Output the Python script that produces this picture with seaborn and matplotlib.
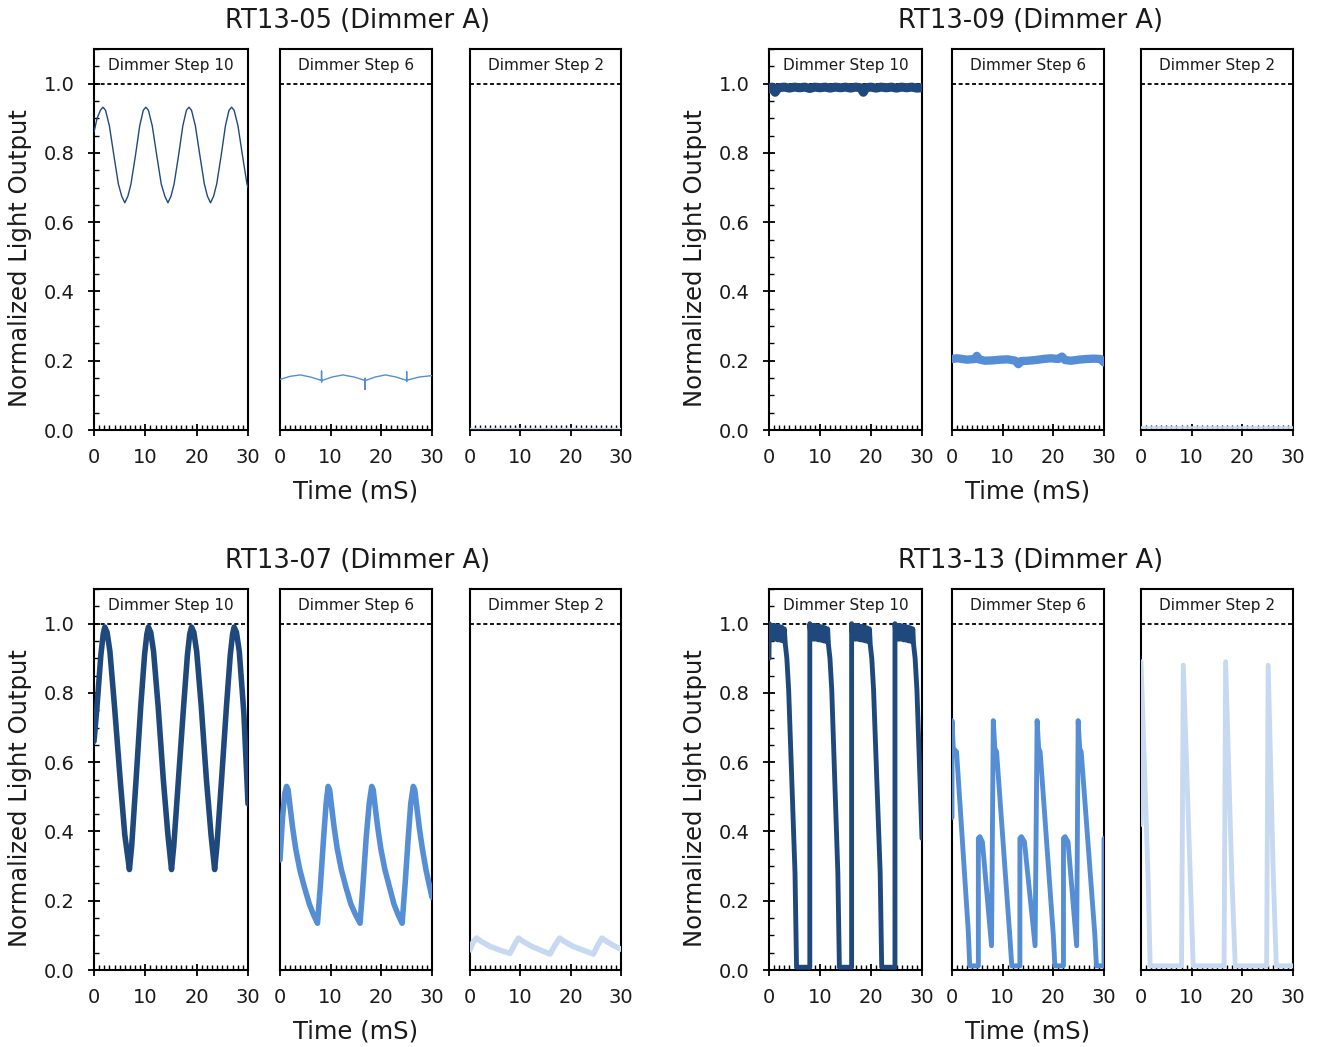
import numpy as np
import pandas as pd
import matplotlib
matplotlib.use("Agg")
import matplotlib.pyplot as plt
import matplotlib.transforms as mtransforms
from matplotlib.ticker import MultipleLocator, FixedLocator, NullLocator
import seaborn as sns

# ---------------- data ----------------
group_titles = ["RT13-05 (Dimmer A)", "RT13-09 (Dimmer A)",
                "RT13-07 (Dimmer A)", "RT13-13 (Dimmer A)"]
step_labels = ["Dimmer Step 10", "Dimmer Step 6", "Dimmer Step 2"]
x_ticks = [0, 10, 20, 30]
y_ticks = [0.0, 0.2, 0.4, 0.6, 0.8, 1.0]
y_tick_labels = ["0.0", "0.2", "0.4", "0.6", "0.8", "1.0"]

# RT13-05
rt05_s10_x = [0, 0.6, 1.25, 1.75, 2.25, 3.0, 3.85, 4.75, 5.4, 6.0, 6.6, 7.2, 8.1, 8.9, 9.6, 10.1,
              10.6, 11.35, 12.2, 13.1, 13.8, 14.4, 15.0, 15.6, 16.5, 17.3, 18.0, 18.5, 19.0, 19.75,
              20.6, 21.5, 22.1, 22.7, 23.3, 23.9, 24.8, 25.6, 26.3, 26.8, 27.3, 28.05, 28.9, 29.8, 30]
rt05_s10_y = [0.86, 0.90, 0.923, 0.932, 0.923, 0.878, 0.795, 0.71, 0.675, 0.656, 0.675, 0.71, 0.795,
              0.878, 0.923, 0.932, 0.923, 0.878, 0.795, 0.71, 0.675, 0.656, 0.675, 0.71, 0.795, 0.878,
              0.923, 0.932, 0.923, 0.878, 0.795, 0.71, 0.675, 0.656, 0.675, 0.71, 0.795, 0.878, 0.923,
              0.932, 0.923, 0.878, 0.795, 0.71, 0.70]
rt05_s6_x = [0, 2, 4, 6, 8.2, 8.2, 8.2, 8.3, 10.3, 12.4, 14.6, 16.8, 16.8, 16.8, 16.9, 18.8, 20.8,
             22.9, 25.0, 25.0, 25.0, 25.1, 27.5, 30]
rt05_s6_y = [0.146, 0.155, 0.159, 0.153, 0.143, 0.170, 0.138, 0.143, 0.153, 0.159, 0.153, 0.143,
             0.117, 0.150, 0.143, 0.153, 0.159, 0.153, 0.143, 0.168, 0.140, 0.144, 0.153, 0.157]
rt05_s2_x = [0, 30]
rt05_s2_y = [0.005, 0.005]

# RT13-09
rt09_s10_x = [0, 0.6, 1.2, 1.8, 3, 4, 5, 6, 7, 8, 9, 10, 11, 12, 13, 14, 15, 16, 17, 18, 18.5, 19,
              20, 21, 22, 23, 24, 25, 26, 27, 28, 29, 30]
rt09_s10_y = [0.985, 0.99, 0.975, 0.988, 0.99, 0.987, 0.99, 0.988, 0.99, 0.986, 0.99, 0.988, 0.99,
              0.987, 0.99, 0.988, 0.99, 0.987, 0.99, 0.988, 0.975, 0.988, 0.99, 0.987, 0.99, 0.988,
              0.99, 0.987, 0.99, 0.988, 0.99, 0.987, 0.988]
rt09_s6_x = [0, 1, 2, 3, 4.5, 4.9, 5.3, 6.5, 8, 9.5, 11, 12.5, 13.1, 13.6, 15, 16.5, 18, 19.5, 21,
             21.7, 22.3, 23.5, 25, 26.5, 28, 29.3, 30]
rt09_s6_y = [0.205, 0.207, 0.205, 0.203, 0.205, 0.214, 0.204, 0.200, 0.201, 0.203, 0.204, 0.200,
             0.190, 0.199, 0.200, 0.202, 0.205, 0.207, 0.205, 0.212, 0.202, 0.200, 0.203, 0.205,
             0.206, 0.205, 0.195]
rt09_s2_x = [0, 30]
rt09_s2_y = [0.01, 0.01]

# RT13-07
rt07_s10_x = [0, 0.58, 1.34, 1.8, 2.1, 2.55, 3.1, 4.0, 5.1, 6.0, 6.9, 7.35, 8.2, 9.1, 9.85, 10.3,
              10.6, 11.05, 11.6, 12.5, 13.5, 14.4, 15.1, 15.55, 16.45, 17.45, 18.2, 18.65, 19.0,
              19.45, 20.0, 20.9, 21.9, 22.8, 23.5, 23.95, 24.85, 25.8, 26.55, 27.0, 27.3, 27.75,
              28.3, 29.2, 30]
rt07_s10_y = [0.66, 0.76, 0.91, 0.97, 0.99, 0.975, 0.92, 0.76, 0.55, 0.39, 0.29, 0.36, 0.55, 0.76,
              0.91, 0.97, 0.99, 0.975, 0.92, 0.76, 0.55, 0.39, 0.29, 0.36, 0.55, 0.76, 0.91, 0.97,
              0.99, 0.975, 0.92, 0.76, 0.55, 0.39, 0.29, 0.36, 0.55, 0.76, 0.91, 0.97, 0.99, 0.975,
              0.92, 0.74, 0.48]
rt07_s6_x = [0, 0.5, 0.95, 1.3, 1.6, 2.0, 2.5, 3.1, 3.9, 4.8, 5.8, 6.6, 7.4, 8.0, 8.6, 9.1, 9.5,
             9.8, 10.2, 10.7, 11.3, 12.1, 13.0, 14.0, 14.9, 15.8, 16.4, 17.0, 17.6, 18.1, 18.4, 18.8,
             19.3, 19.9, 20.7, 21.6, 22.5, 23.3, 24.1, 24.7, 25.3, 25.8, 26.3, 26.6, 27.0, 27.5,
             28.1, 28.8, 29.4, 30]
rt07_s6_y = [0.318, 0.44, 0.51, 0.53, 0.52, 0.47, 0.41, 0.35, 0.29, 0.24, 0.19, 0.16, 0.135, 0.25,
             0.38, 0.48, 0.53, 0.52, 0.47, 0.41, 0.35, 0.29, 0.24, 0.19, 0.16, 0.135, 0.25, 0.38,
             0.48, 0.53, 0.52, 0.47, 0.41, 0.35, 0.29, 0.24, 0.19, 0.16, 0.135, 0.25, 0.38, 0.48,
             0.53, 0.52, 0.47, 0.41, 0.35, 0.29, 0.25, 0.21]
rt07_s2_x = [0, 0.6, 1.3, 2.3, 4.0, 6.0, 7.95, 8.8, 9.6, 10.6, 12.3, 14.1, 15.9, 16.9, 17.8, 18.8,
             20.5, 22.5, 24.5, 25.4, 26.2, 27.2, 28.6, 30]
rt07_s2_y = [0.058, 0.08, 0.092, 0.082, 0.068, 0.057, 0.048, 0.072, 0.092, 0.082, 0.068, 0.057,
             0.046, 0.072, 0.092, 0.082, 0.068, 0.057, 0.046, 0.072, 0.092, 0.082, 0.07, 0.06]

# RT13-13
rt13_s10_x = [0, 0.05, 0.25, 0.5, 0.75, 1.0, 1.25, 1.5, 1.75, 2.0, 2.25, 2.5, 2.75, 3.0, 3.2, 3.5,
              3.85, 5.1, 5.4, 8.0,
              8.0, 8.25, 8.5, 8.75, 9.0, 9.25, 9.5, 9.75, 10.0, 10.25, 10.5, 10.75, 11.0, 11.25,
              11.5, 11.65, 11.95, 12.3, 13.5, 13.8, 16.2,
              16.2, 16.45, 16.7, 16.95, 17.2, 17.45, 17.7, 17.95, 18.2, 18.45, 18.7, 18.95, 19.2,
              19.45, 19.7, 19.85, 20.15, 20.5, 21.8, 22.1, 24.7,
              24.7, 24.95, 25.2, 25.45, 25.7, 25.95, 26.2, 26.45, 26.7, 26.95, 27.2, 27.45, 27.7,
              27.95, 28.2, 28.35, 28.65, 29.0, 30]
rt13_s10_y = [0.90, 1.0, 0.955, 0.995, 0.955, 0.995, 0.955, 0.993, 0.953, 0.992, 0.952, 0.99, 0.95,
              0.985, 0.94, 0.90, 0.81, 0.28, 0.008, 0.008,
              1.0, 0.955, 0.995, 0.955, 0.995, 0.955, 0.993, 0.953, 0.992, 0.952, 0.99, 0.95, 0.988,
              0.948, 0.985, 0.94, 0.90, 0.81, 0.28, 0.008, 0.008,
              1.0, 0.955, 0.995, 0.955, 0.995, 0.955, 0.993, 0.953, 0.992, 0.952, 0.99, 0.95, 0.988,
              0.948, 0.985, 0.94, 0.90, 0.81, 0.28, 0.008, 0.008,
              1.0, 0.955, 0.995, 0.955, 0.995, 0.955, 0.993, 0.953, 0.992, 0.952, 0.99, 0.95, 0.988,
              0.948, 0.985, 0.94, 0.90, 0.81, 0.38]
rt13_s6_x = [0, 0, 0.25, 0.9, 3.2, 3.5, 5.2, 5.2, 5.5, 6.0, 7.8, 8.15, 8.45, 8.8, 11.4, 11.8, 13.4,
             13.4, 13.7, 14.3, 16.4, 16.8, 17.1, 17.4, 20.0, 20.3, 22.0, 22.0, 22.3, 22.9, 24.6,
             24.9, 25.2, 25.5, 28.2, 28.5, 30, 30]
rt13_s6_y = [0.44, 0.72, 0.64, 0.63, 0.115, 0.012, 0.012, 0.38, 0.385, 0.37, 0.07, 0.72, 0.64,
             0.63, 0.10, 0.012, 0.012, 0.38, 0.385, 0.37, 0.07, 0.72, 0.64, 0.63, 0.10, 0.012,
             0.012, 0.38, 0.385, 0.37, 0.07, 0.72, 0.64, 0.63, 0.10, 0.012, 0.012, 0.38]
rt13_s2_x = [0, 0, 1.45, 1.8, 8.0, 8.35, 9.7, 10.3, 16.4, 16.7, 17.9, 18.6, 24.8, 25.1, 26.1, 26.7,
             30]
rt13_s2_y = [0.42, 0.89, 0.24, 0.012, 0.012, 0.88, 0.28, 0.012, 0.012, 0.89, 0.28, 0.012, 0.012,
             0.88, 0.28, 0.012, 0.012]

# ---------------- styling ----------------
sns.set_theme(style="white")
plt.rcParams['font.family'] = ['DejaVu Sans']

C10, C6, C2 = "#1F497D", "#558ED5", "#C6D9F1"
colors = [C10, C6, C2]
TXT = "#1a1a1a"

series = [
    [(rt05_s10_x, rt05_s10_y), (rt05_s6_x, rt05_s6_y), (rt05_s2_x, rt05_s2_y)],
    [(rt09_s10_x, rt09_s10_y), (rt09_s6_x, rt09_s6_y), (rt09_s2_x, rt09_s2_y)],
    [(rt07_s10_x, rt07_s10_y), (rt07_s6_x, rt07_s6_y), (rt07_s2_x, rt07_s2_y)],
    [(rt13_s10_x, rt13_s10_y), (rt13_s6_x, rt13_s6_y), (rt13_s2_x, rt13_s2_y)],
]
line_widths = [[1.0, 1.0, 1.0], [6.5, 6.0, 1.8], [4.0, 4.0, 4.0], [3.5, 3.5, 3.5]]

W, H = 1318, 1047
fig = plt.figure(figsize=(W / 100, H / 100), dpi=100)

left_cols = [(94, 248), (280, 432), (470, 621)]
right_cols = [(769, 922), (952, 1104), (1141, 1293)]
rows = [(49, 430), (589, 970)]
group_layout = [(rows[0], left_cols), (rows[0], right_cols),
                (rows[1], left_cols), (rows[1], right_cols)]

for g, ((top, bot), cols) in enumerate(group_layout):
    for k, (x0, x1) in enumerate(cols):
        ax = fig.add_axes([x0 / W, 1 - bot / H, (x1 - x0) / W, (bot - top) / H])
        xs, ys = series[g][k]
        df = pd.DataFrame({"Time (mS)": xs, "Output": ys})
        sns.lineplot(data=df, x="Time (mS)", y="Output", ax=ax, color=colors[k],
                     linewidth=line_widths[g][k], estimator=None, sort=False,
                     legend=False, zorder=3)
        ax.axhline(1.0, color="black", lw=1.3, ls=(0, (2.2, 1.5)), zorder=2)
        ax.set_xlim(0, 30)
        ax.set_ylim(0, 1.1)
        ax.set_xlabel("")
        ax.set_ylabel("")
        for sp in ax.spines.values():
            sp.set_color("black")
            sp.set_linewidth(1.5)
        ax.xaxis.set_major_locator(FixedLocator(x_ticks))
        ax.xaxis.set_minor_locator(MultipleLocator(1))
        ax.tick_params(axis="x", which="major", direction="inout", length=8, width=1.3,
                       labelsize=14, pad=9, colors="black", bottom=True)
        ax.tick_params(axis="x", which="minor", direction="in", length=3.5, width=1.0,
                       bottom=True, colors="black")
        ax.tick_params(axis="x", labelcolor=TXT)
        if k == 0:
            ax.yaxis.set_major_locator(FixedLocator(y_ticks))
            ax.set_yticklabels(y_tick_labels)
            ax.yaxis.set_minor_locator(MultipleLocator(0.05))
            ax.tick_params(axis="y", which="major", direction="inout", length=8, width=1.3,
                           labelsize=14, pad=10, left=True, colors="black")
            ax.tick_params(axis="y", which="minor", direction="in", length=3.5, width=1.0,
                           left=True, colors="black")
            ax.tick_params(axis="y", labelcolor=TXT)
        else:
            ax.yaxis.set_major_locator(NullLocator())
            ax.yaxis.set_minor_locator(NullLocator())
        trans = mtransforms.blended_transform_factory(ax.transAxes, ax.transData)
        ax.text(0.5, 1.052, step_labels[k], transform=trans, ha="center", va="center",
                fontsize=11, color=TXT, zorder=5)

    mid = cols[1]
    xc = (mid[0] + mid[1]) / 2 / W
    gxc = (cols[0][0] + cols[2][1]) / 2 / W
    fig.text(gxc, 1 - (top - 28) / H, group_titles[g], ha="center", va="center",
             fontsize=18.5, color=TXT)
    fig.text(xc, 1 - (bot + 62) / H, "Time (mS)", ha="center", va="center",
             fontsize=17.5, color=TXT)
    fig.text((cols[0][0] - 74) / W, 1 - (bot - 172) / H, "Normalized Light Output",
             rotation=90, ha="center", va="center", fontsize=17.5, color=TXT)

fig.savefig("out.png", dpi=100)
